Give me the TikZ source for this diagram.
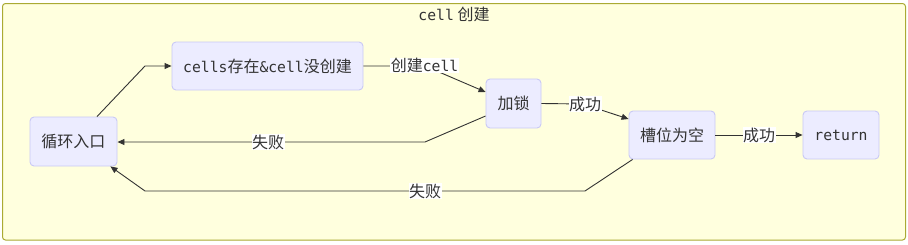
\documentclass[tikz,border=0pt]{standalone}
\usepackage{fontspec}
\setmainfont{Noto Sans CJK SC}
\setmonofont{DejaVu Sans Mono}[Scale=0.92]
\usetikzlibrary{arrows.meta}
\definecolor{clusterfill}{HTML}{FFFFDE}
\definecolor{clusterline}{HTML}{AAAA33}
\definecolor{nodefill}{HTML}{ECECFF}
\definecolor{nodeline}{HTML}{C9C9F5}
\definecolor{txt}{HTML}{333333}
\tikzset{
  box/.style={draw=nodeline, fill=nodefill, rounded corners=4pt, line width=0.9pt,
    text=txt, font=\fontsize{16}{18}\selectfont, inner sep=0pt, anchor=center},
  elabel/.style={fill=white, inner sep=0.5pt, text=txt, font=\fontsize{16}{18}\selectfont},
  conn/.style={draw=txt, line width=0.9pt},
  tipped/.style={conn, -{Triangle[length=7pt,width=6pt]}},
}
\begin{document}
\begin{tikzpicture}[x=1pt,y=-1pt]
\useasboundingbox (0,0) rectangle (908,244);
\draw[fill=clusterfill, draw=clusterline, line width=1pt, rounded corners=3pt] (2.5,3.5) rectangle (905.5,240);
\node[text=txt, font=\fontsize{16}{18}\selectfont] (title) at (454,14) {\texttt{cell} 创建};

\node[box, minimum width=87pt, minimum height=49pt] (loop) at (73.5,141.5) {循环入口};
\node[box, minimum width=191pt, minimum height=48pt] (cells) at (267.5,66) {\texttt{cells}存在\texttt{\&cell}没创建};
\node[box, minimum width=55pt, minimum height=49pt] (lock) at (513.5,103.5) {加锁};
\node[box, minimum width=86pt, minimum height=48pt] (slot) at (672,135) {槽位为空};
\node[box, minimum width=76pt, minimum height=48pt] (ret) at (841,135) {\texttt{return}};

% loop -> cells
\draw[tipped] ([xshift=23.5pt]loop.north) -- (145,66) -- (cells.west);
% cells -> lock
\draw[tipped] (cells.east) -- (425,66) -- ([yshift=11.5pt]lock.west);
\node[elabel] (l1) at (424.5,65.5) {创建\texttt{cell}};
% lock -> slot
\draw[tipped] (lock.east) -- (583,104) -- ([yshift=16pt]slot.west);
\node[elabel] (l2) at (585,104) {成功};
% slot -> return
\draw[tipped] (slot.east) -- (ret.west);
\node[elabel] (l3) at (759,135) {成功};
% lock -> loop
\draw[tipped] ([yshift=-12.5pt]lock.west) -- (425,142) -- (loop.east |- 0,142);
\node[elabel] (l4) at (268,142) {失败};
% slot -> loop
\draw[tipped] ([xshift=4pt]slot.south west) -- (585,191) -- (145,191) -- ([xshift=-7pt]loop.south east);
\node[elabel] (l5) at (425,191) {失败};
\end{tikzpicture}
\end{document}
